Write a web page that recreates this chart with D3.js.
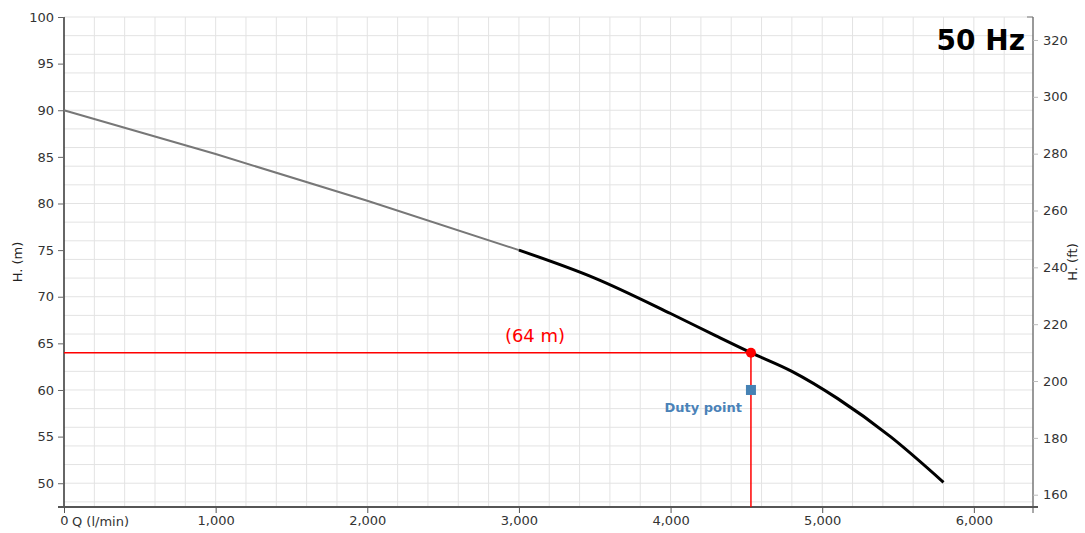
<!DOCTYPE html>
<html><head><meta charset="utf-8">
<script src="https://cdn.jsdelivr.net/npm/d3@7"></script>
<style>
html,body{margin:0;padding:0;background:#fff;}
text{font-family:"DejaVu Sans",sans-serif;}
</style></head>
<body>
<svg id="c" width="1085" height="533"></svg>
<script>
// Data
const grayQ = [0, 1000, 2000, 3000];
const grayH = [90, 85.3, 80.3, 75.0];
const blackQ = [3000, 3500, 4000, 4300, 4530, 4800, 5100, 5450, 5800];
const blackH = [75.0, 72.0, 68.2, 65.8, 64.0, 62.0, 59.1, 55.0, 50.1];
const operating = {q: 4530, h: 64};
const duty = {q: 4530, h: 60};
const xTicks = [0, 1000, 2000, 3000, 4000, 5000, 6000];
const yTicksM = [50, 55, 60, 65, 70, 75, 80, 85, 90, 95, 100];
const yTicksFt = [160, 180, 200, 220, 240, 260, 280, 300, 320];
const freqLabel = "50 Hz";

const svg = d3.select("#c");
const L = 64, R = 1033, T = 17, B = 507;
const x = d3.scaleLinear().domain([0, 6390]).range([L, R]);
const y = d3.scaleLinear().domain([47.45, 100]).range([B, T]);
const M2FT = 3.28084;
const yft = d3.scaleLinear().domain([47.45 * M2FT, 100 * M2FT]).range([B, T]);

// grid
const g = svg.append("g");
g.selectAll("line.v").data(d3.range(200, 6390, 200)).join("line")
  .attr("x1", d => x(d)).attr("x2", d => x(d)).attr("y1", T).attr("y2", B)
  .attr("stroke", "#e3e3e3").attr("stroke-width", 1);
g.selectAll("line.h").data(d3.range(48, 100.1, 2)).join("line")
  .attr("x1", L).attr("x2", R).attr("y1", d => y(d)).attr("y2", d => y(d))
  .attr("stroke", "#e3e3e3").attr("stroke-width", 1);

// left axis
const la = svg.append("g").attr("transform", `translate(${L},0)`)
  .call(d3.axisLeft(y).tickValues(yTicksM).tickSize(6).tickPadding(4).tickFormat(d3.format("d")));
la.select(".domain").attr("stroke", "#333").attr("stroke-width", 1.5).attr("d", `M0,${T}V${B}`);
la.selectAll(".tick line").attr("stroke", "#666");
la.selectAll(".tick text").attr("fill", "#333").style("font-size", "13px").style("font-family", "DejaVu Sans");

// right axis
const ra = svg.append("g").attr("transform", `translate(${R},0)`)
  .call(d3.axisRight(yft).tickValues(yTicksFt).tickSize(5).tickPadding(5).tickFormat(d3.format("d")));
ra.select(".domain").attr("stroke", "#777").attr("stroke-width", 1.5).attr("d", `M0,${T}V${B}`);
ra.selectAll(".tick line").attr("stroke", "#bbb");
ra.selectAll(".tick text").attr("fill", "#333").style("font-size", "13px").style("font-family", "DejaVu Sans");
ra.append("line").attr("x1", -6).attr("x2", 0).attr("y1", T).attr("y2", T).attr("stroke", "#777");

// bottom axis
const ba = svg.append("g").attr("transform", `translate(0,${B})`)
  .call(d3.axisBottom(x).tickValues(xTicks).tickSize(6).tickPadding(3).tickFormat(d3.format(",")));
ba.select(".domain").attr("stroke", "#555").attr("stroke-width", 2).attr("d", `M${L - 6},0H${R + 5}`);
ba.selectAll(".tick line").attr("stroke", "#555");
ba.selectAll(".tick text").attr("fill", "#333").style("font-size", "13px").style("font-family", "DejaVu Sans");
ba.append("line").attr("x1", R).attr("x2", R).attr("y1", 0).attr("y2", 6).attr("stroke", "#555");

// axis labels
svg.append("text").attr("x", 72).attr("y", 526).text("Q (l/min)")
  .attr("fill", "#333").style("font-size", "13px");
svg.append("text").attr("transform", "translate(22,262) rotate(-90)").attr("text-anchor", "middle")
  .text("H. (m)").attr("fill", "#222").style("font-size", "13px");
svg.append("text").attr("transform", "translate(1077,262) rotate(-90)").attr("text-anchor", "middle")
  .text("H. (ft)").attr("fill", "#222").style("font-size", "13px");

// curves
const line = d3.line().x(d => x(d[0])).y(d => y(d[1])).curve(d3.curveMonotoneX);
svg.append("path").datum(grayQ.map((q, i) => [q, grayH[i]])).attr("d", line)
  .attr("fill", "none").attr("stroke", "#777").attr("stroke-width", 2);
svg.append("path").datum(blackQ.map((q, i) => [q, blackH[i]])).attr("d", line)
  .attr("fill", "none").attr("stroke", "#000").attr("stroke-width", 3);

// operating point lines
svg.append("line").attr("x1", L).attr("x2", x(operating.q)).attr("y1", y(operating.h)).attr("y2", y(operating.h))
  .attr("stroke", "#ff0000").attr("stroke-width", 1.5);
svg.append("line").attr("x1", x(operating.q)).attr("x2", x(operating.q)).attr("y1", y(operating.h)).attr("y2", B)
  .attr("stroke", "#ff0000").attr("stroke-width", 1.5);
svg.append("circle").attr("cx", x(operating.q)).attr("cy", y(operating.h)).attr("r", 5).attr("fill", "#ff0000");
svg.append("text").attr("x", 535).attr("y", 342).attr("text-anchor", "middle")
  .text(`(${operating.h} m)`).attr("fill", "#ff0000").style("font-size", "18px");

// duty point
svg.append("rect").attr("x", x(duty.q) - 5).attr("y", y(duty.h) - 5).attr("width", 10).attr("height", 10)
  .attr("fill", "#4682b4");
svg.append("text").attr("x", x(duty.q) - 9).attr("y", y(duty.h) + 22).attr("text-anchor", "end")
  .text("Duty point").attr("fill", "#4a82b8").style("font-size", "13px").style("font-weight", "bold");

// frequency
svg.append("text").attr("x", 1025).attr("y", 50).attr("text-anchor", "end")
  .text(freqLabel).attr("fill", "#000").style("font-size", "28px").style("font-weight", "bold");
</script>
</body></html>
